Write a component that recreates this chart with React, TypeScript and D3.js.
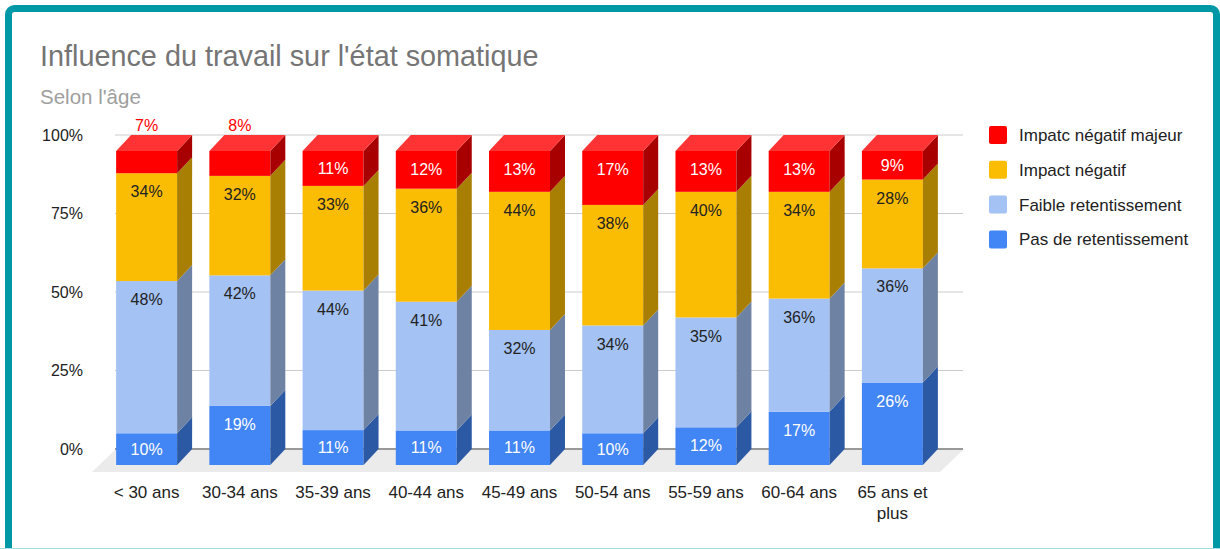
import React from "react";
import * as d3 from "d3";

const categories = ["< 30 ans", "30-34 ans", "35-39 ans", "40-44 ans", "45-49 ans", "50-54 ans", "55-59 ans", "60-64 ans", "65 ans et|plus"];
const pasRetentissement = [10, 19, 11, 11, 11, 10, 12, 17, 26];
const faibleRetentissement = [48, 42, 44, 41, 32, 34, 35, 36, 36];
const impactNegatif = [34, 32, 33, 36, 44, 38, 40, 34, 28];
const impactMajeur = [7, 8, 11, 12, 13, 17, 13, 13, 9];
const yTicks = [0, 0.25, 0.5, 0.75, 1];

const seriesDefs = [
  { name: "Pas de retentissement", values: pasRetentissement, front: "#4285F4", side: "#2C59A3", top: "#6A9FF6", text: "#ffffff" },
  { name: "Faible retentissement", values: faibleRetentissement, front: "#A4C2F4", side: "#6E82A3", top: "#B8D0F6", text: "#222222" },
  { name: "Impact négatif", values: impactNegatif, front: "#FBBC04", side: "#A87E03", top: "#FCC936", text: "#222222" },
  { name: "Impatc négatif majeur", values: impactMajeur, front: "#FF0000", side: "#A80000", top: "#FF3333", text: "#ffffff" },
];

const DX = 15;
const DY = -16;
const FONT = "'Liberation Sans', Arial, sans-serif";

export default function App() {
  const W = 1220, H = 549;
  const x = d3.scaleBand<string>().domain(categories).range([100, 939]).paddingInner(0.346).paddingOuter(0.173);
  const yFront = d3.scaleLinear().domain([0, 1]).range([465, 151]);
  const yBack = (v: number) => yFront(v) + DY;
  const bw = x.bandwidth();

  const bars: React.ReactNode[] = [];
  const labels: React.ReactNode[] = [];
  categories.forEach((c, i) => {
    const total = d3.sum(seriesDefs, (s) => s.values[i]);
    let cum = 0;
    const x0 = x(c)!;
    const x1 = x0 + bw;
    seriesDefs.forEach((s, si) => {
      const v = s.values[i];
      const a = cum / total;
      const b = (cum + v) / total;
      cum += v;
      const yb = yFront(a), yt = yFront(b);
      bars.push(
        <rect key={`f${i}-${si}`} x={x0} y={yt} width={bw} height={yb - yt} fill={s.front} />
      );
      bars.push(
        <polygon key={`s${i}-${si}`} points={`${x1},${yt} ${x1 + DX},${yt + DY} ${x1 + DX},${yb + DY} ${x1},${yb}`} fill={s.side} />
      );
      if (si === seriesDefs.length - 1) {
        bars.push(
          <polygon key={`t${i}`} points={`${x0},${yt} ${x0 + DX},${yt + DY} ${x1 + DX},${yt + DY} ${x1},${yt}`} fill={s.top} />
        );
      }
      const cx = x0 + bw / 2;
      if (si === seriesDefs.length - 1 && v <= 8) {
        labels.push(
          <text key={`l${i}-${si}`} x={cx} y={125} dy="0.35em" textAnchor="middle" fontSize={16} fill="#ff0000" fontFamily={FONT}>{v}%</text>
        );
      } else {
        const ly = Math.min(yt + 18.5, (yt + yb) / 2);
        labels.push(
          <text key={`l${i}-${si}`} x={cx} y={ly} dy="0.35em" textAnchor="middle" fontSize={16} fill={s.text} fontFamily={FONT}>{v}%</text>
        );
      }
    });
  });

  const legendOrder = [...seriesDefs].reverse();

  return (
    <svg width={W} height={H} style={{ position: "absolute", left: 0, top: 0 }}>
      <rect x={0} y={0} width={W} height={H} fill="#ffffff" />
      <rect x={8.5} y={8.5} width={1208} height={560} rx={6} fill="#ffffff" stroke="#0097A7" strokeWidth={7} />
      <line x1={0} x2={W} y1={548.5} y2={548.5} stroke="#a8dde3" strokeWidth={1} />
      <text x={40} y={66} fontSize={28.8} fill="#757575" fontFamily={FONT}>Influence du travail sur l'état somatique</text>
      <text x={40} y={103.5} fontSize={20.5} fill="#9e9e9e" fontFamily={FONT}>Selon l'âge</text>

      <polygon points={`115,450 963,450 940,472 92,472`} fill="#ebebeb" />
      {yTicks.map((t) => (
        <g key={t}>
          <line x1={115} x2={963} y1={yBack(t)} y2={yBack(t)} stroke={t === 0 ? "#333333" : "#cccccc"} strokeWidth={1} />
          <text x={83} y={yBack(t)} dy="0.35em" textAnchor="end" fontSize={16} fill="#222222" fontFamily={FONT}>{`${Math.round(t * 100)}%`}</text>
        </g>
      ))}
      {bars}
      {labels}
      {categories.map((c) => {
        const lines = c.split("|");
        return (
          <text key={c} x={x(c)! + bw / 2} y={492} textAnchor="middle" fontSize={17} fill="#222222" fontFamily={FONT}>
            {lines.map((l, li) => (
              <tspan key={li} x={x(c)! + bw / 2} dy={li === 0 ? "0.35em" : "1.25em"}>{l}</tspan>
            ))}
          </text>
        );
      })}
      {legendOrder.map((s, i) => {
        const cy = 135 + i * 34.8;
        return (
          <g key={s.name}>
            <rect x={989} y={cy - 9} width={18} height={18} rx={2} fill={s.front} />
            <text x={1019} y={cy} dy="0.35em" fontSize={17} fill="#222222" fontFamily={FONT}>{s.name}</text>
          </g>
        );
      })}
    </svg>
  );
}
